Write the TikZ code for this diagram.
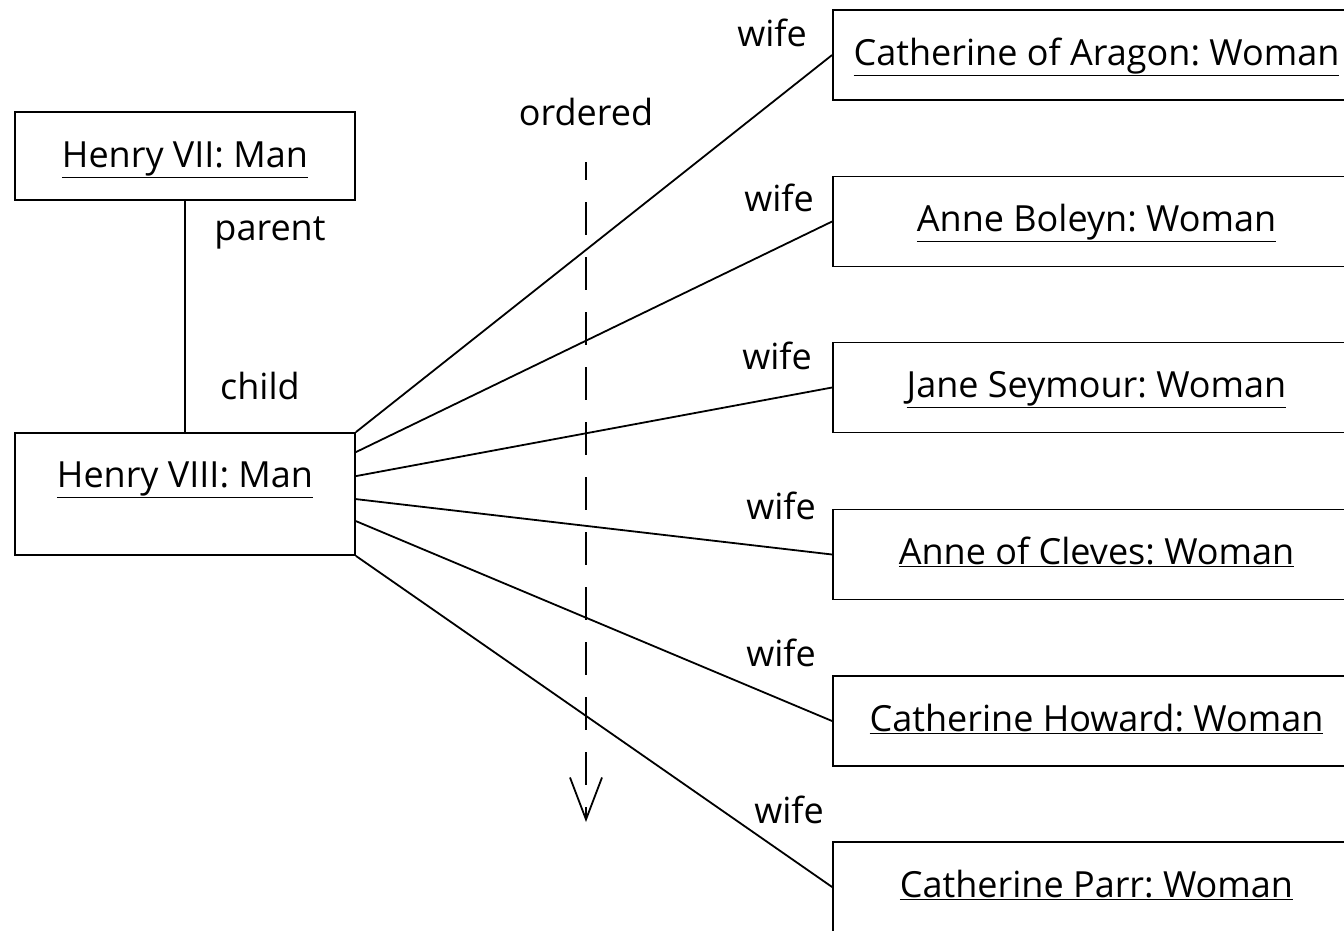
\documentclass[tikz,border=0pt]{standalone}
\usepackage{fontspec}
\setmainfont{Open Sans}
\usetikzlibrary{calc,arrows.meta}
\begin{document}
\frenchspacing
\begin{tikzpicture}[x=1pt,y=-1pt,
  every node/.style={font=\fontsize{36}{42}\selectfont, inner sep=0pt},
  objbox/.style={draw, line width=1.8pt, text height=25pt},
  woman/.style={objbox, minimum width=527pt, minimum height=90pt, text depth=5pt},
  lbl/.style={},
  link/.style={line width=1.8pt}]
\useasboundingbox (0,0) rectangle (1344,930);
\clip (0,0) rectangle (1344,930);
\fill[white] (0,0) rectangle (1344,930);
% left objects
\node[objbox, minimum width=340pt, minimum height=88pt, text depth=3pt] (h7) at (185,156) {\underline{Henry VII: Man}};
\node[objbox, minimum width=340pt, minimum height=122pt, text depth=39pt] (h8) at (185,494) {\underline{Henry VIII: Man}};
\draw[link] (h7.south) -- (h8.north);
\node[lbl] (parent) at (270,233) {parent};
\node[lbl] (child) at (260,386) {child};
% wives
\node[woman] (w1) at (1096.5,55) {\underline{Catherine of Aragon: Woman}};
\node[woman] (w2) at (1096.5,221.5) {\underline{Anne Boleyn: Woman}};
\node[woman] (w3) at (1096.5,387.5) {\underline{Jane Seymour: Woman}};
\node[woman] (w4) at (1096.5,554.5) {\underline{Anne of Cleves: Woman}};
\node[woman] (w5) at (1096.5,721) {\underline{Catherine Howard: Woman}};
\node[woman] (w6) at (1096.5,887) {\underline{Catherine Parr: Woman}};
% links
\draw[link] (h8.north east) -- (w1.west);
\draw[link] ($(h8.north east)+(0,20)$) -- (w2.west);
\draw[link] ($(h8.north east)+(0,44)$) -- (w3.west);
\draw[link] ($(h8.north east)+(0,67)$) -- (w4.west);
\draw[link] ($(h8.north east)+(0,89)$) -- (w5.west);
\draw[link] (h8.south east) -- (w6.west);
% wife labels
\node[lbl] (l1) at (772,33) {wife};
\node[lbl] (l2) at (779,198) {wife};
\node[lbl] (l3) at (777,356) {wife};
\node[lbl] (l4) at (781,506) {wife};
\node[lbl] (l5) at (781,653) {wife};
\node[lbl] (l6) at (789,810) {wife};
% ordered
\node[lbl] (ord) at (586,112) {ordered};
\coordinate (otop) at (586,162);
\coordinate (obot) at (586,822);
\draw[line width=1.8pt, dash pattern=on 33pt off 22pt, dash phase=15pt,
  -{Straight Barb[length=42pt,width=32pt,line width=1.8pt]}] (otop) -- (obot);
\end{tikzpicture}
\end{document}
